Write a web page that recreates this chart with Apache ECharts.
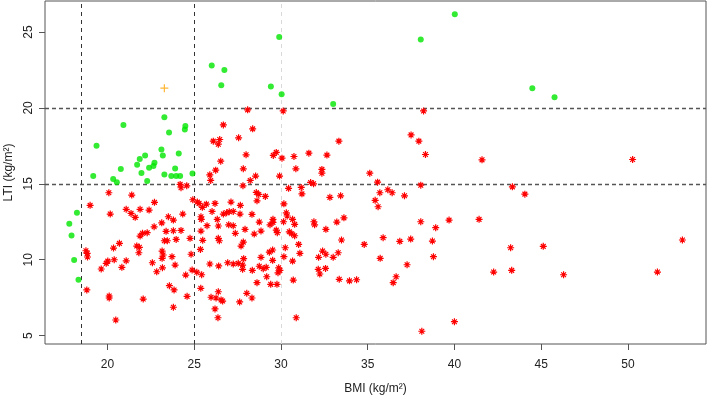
<!DOCTYPE html>
<html>
<head>
<meta charset="utf-8">
<script src="https://cdn.jsdelivr.net/npm/echarts@6/dist/echarts.min.js"></script>
<style>
html,body{margin:0;padding:0;background:#fff;}
#chart{width:709px;height:396px;}
</style>
</head>
<body>
<div id="chart"></div>
<script>
// BMI (x), LTI (y)
const redPoints = [
[28.08,19.87],[30.13,19.8],[26.68,18.88],[28.37,18.62],[27.56,18.03],[33.34,17.81],[26.1,17.81],[26.47,17.92],[26.39,17.61],[27.99,16.91],
[29.73,17.07],[29.56,16.87],[30.06,16.69],[30.75,16.8],[31.61,17.02],[32.65,16.89],[26.53,16.49],[26.24,15.9],[27.83,15.99],[30.86,15.99],
[32.36,15.95],[32.36,15.7],[25.9,15.59],[25.95,15.22],[28.23,15.22],[28.54,15.51],[29.92,15.51],[31.71,15.09],[31.88,15.0],[24.19,14.96],
[24.24,14.74],[24.57,14.87],[27.81,14.87],[30.44,14.7],[31.17,14.76],[28.58,14.43],[28.72,14.3],[31.21,14.34],[20.08,14.41],[21.4,14.26],
[29.1,14.17],[32.82,14.11],[33.44,14.21],[22.71,13.78],[24.92,13.95],
[38.22,19.8],[37.5,18.22],[37.95,17.81],[38.33,16.93],[41.59,16.58],[50.27,16.6],[35.12,15.7],[35.57,15.11],[38.06,14.91],[43.34,14.8],
[35.7,14.41],[36.16,14.61],[36.41,14.41],[37.12,14.21],[44.06,14.32],[35.43,13.91],[35.6,13.49],[38.06,12.5],[39.69,12.61],[41.42,12.66],
[38.92,12.11],[34.8,11.01],[35.89,11.45],[36.85,11.21],[37.48,11.36],[38.73,11.23],[53.14,11.3],[43.24,10.79],[45.12,10.88],[35.72,10.09],
[38.79,10.2],[37.27,9.67],[42.26,9.19],[43.3,9.3],[46.29,9.01],[51.7,9.19],[36.64,8.88],[36.47,8.49],[34.36,8.68],[33.95,8.61],
[40.0,5.92],[38.12,5.29],
[19.0,13.58],[25.18,13.8],[25.28,13.71],[25.7,13.66],[26.2,13.71],[25.47,13.45],[27.12,13.8],[27.66,13.58],[28.62,13.88],[30.17,13.68],
[26.03,13.18],[20.16,13.01],[21.08,13.32],[21.36,13.05],[21.6,12.79],[21.88,13.32],[22.4,13.27],[23.51,12.83],[23.8,12.61],[24.34,13.01],
[25.39,12.83],[25.41,12.66],[26.33,12.66],[26.68,13.01],[26.87,13.09],[27.02,13.16],[27.25,13.18],[27.64,13.01],[28.33,12.99],[30.31,13.09],
[30.36,12.88],[30.67,12.66],[30.15,12.5],[30.79,12.33],[33.63,12.76],[33.22,12.48],[28.75,12.48],[29.37,12.3],[29.54,12.46],[29.54,12.66],
[31.9,12.5],[31.94,12.3],[32.59,12.0],[23.13,12.43],[22.69,12.17],[23.38,11.87],[23.8,11.91],[24.24,11.93],[25.39,11.89],[26.39,12.22],
[26.99,12.3],[27.25,12.24],[27.93,12.0],[27.37,11.74],[28.46,11.69],[28.85,11.89],[29.73,11.95],[29.79,11.78],[30.48,11.84],[30.62,11.71],
[30.79,11.58],[21.88,11.56],[22.02,11.74],[22.29,11.78],[23.96,11.34],[23.28,11.25],[24.76,11.41],[25.49,11.28],[26.39,11.41],[26.45,11.25],
[27.83,11.16],[33.49,11.3],[21.69,10.9],[21.84,10.82],[20.69,11.08],[20.35,10.77],[21.81,10.46],[23.15,10.57],[23.21,10.31],[23.15,10.09],
[23.72,10.2],[24.82,10.36],[25.36,10.68],[27.7,10.9],[30.25,10.79],[31.02,11.01],[31.09,10.42],[32.4,10.57],[32.59,10.36],[33.3,10.46],
[32.17,10.16],[33.01,10.16],[29.33,10.5],[29.52,10.64],[28.85,10.16],[27.85,10.07],[29.52,9.96],[30.67,9.91],[18.76,10.59],[18.83,10.42],
[18.85,10.18],[20.02,9.91],[19.93,9.76],[20.39,10.0],[21.08,9.93],[22.59,9.8],[23.17,9.47],[22.84,9.21],[23.9,9.65],[25.9,9.72],
[26.41,9.59],[26.93,9.8],[27.25,9.72],[27.54,9.76],[27.79,9.65],[27.79,9.37],[28.35,9.3],[28.75,9.57],[28.98,9.41],[29.15,9.5],
[29.18,8.88],[29.87,9.47],[29.94,9.3],[29.83,9.14],[32.15,9.37],[32.24,9.06],[32.57,9.43],[19.64,9.39],[20.83,9.5],[24.51,8.99],
[25.43,9.01],[24.88,9.32],[28.62,8.49],[29.41,8.38],[29.77,8.38],[30.71,8.66],[33.36,8.71],[23.57,8.29],[23.84,8.01],[18.81,8.01],
[25.38,8.12],[26.39,7.89],[28.03,7.79],[28.33,7.48],[25.97,7.53],[26.26,7.48],[26.55,7.35],[26.64,7.28],[27.62,7.22],[20.1,7.61],
[20.1,7.48],[22.06,7.41],[24.59,7.59],[23.8,6.87],[26.2,6.76],[26.37,6.18],[20.48,6.03],[30.88,6.18],
[25.74,12.24],[25.15,9.18],[30.17,10.2],[23.45,11.25]
];
const greenPoints = [
[29.9,24.67],[26.01,22.79],[26.74,22.5],[26.56,21.49],[29.42,21.41],[30.04,20.9],[33.01,20.26],[20.92,18.88],[19.37,17.5],[23.28,19.39],
[23.55,18.38],[24.49,18.8],[24.46,18.58],[23.11,17.26],[23.19,16.87],[24.11,17.0],[22.17,16.87],[21.86,16.64],[21.71,16.25],[22.71,16.38],
[22.65,16.18],[22.4,16.05],[23.9,16.01],[20.77,15.97],[21.96,15.72],[19.18,15.51],[23.28,15.62],[23.68,15.51],[23.96,15.51],[24.19,15.51],
[24.9,15.68],[20.33,15.31],[20.54,15.11],[22.29,15.18],[18.24,13.09],[17.8,12.37],[17.93,11.6],[18.08,9.98],[18.33,8.68],
[40.02,26.16],[38.06,24.5],[44.49,21.3],[45.77,20.7]
];
const orangePoints = [[23.28,21.3]];
const xTicks = [20,25,30,35,40,45,50];
const yTicks = [5,10,15,20,25];
const refDarkX = [18.5,25];
const refLightX = [30];
const refY = [15,20];

const FONT = '"Liberation Sans", Arial, sans-serif';
const chart = echarts.init(document.getElementById('chart'), null, {renderer:'canvas'});

const lines = [];
refDarkX.forEach(v => lines.push({xAxis:v, lineStyle:{color:'#333', width:1, type:[4,4]}}));
refLightX.forEach(v => lines.push({xAxis:v, lineStyle:{color:'#d9d9d9', width:1, type:[4,4]}}));
refY.forEach(v => lines.push({yAxis:v, lineStyle:{color:'#555', width:1.3, type:[4,3]}}));

chart.setOption({
  animation:false,
  backgroundColor:'#fff',
  grid:{left:45, right:3, top:1, bottom:52, show:true, borderColor:'#555', borderWidth:1, backgroundColor:'transparent',
        containLabel:false, outerBoundsMode:'none'},
  xAxis:{
    type:'value', min:16.4, max:54.5,
    name:'BMI (kg/m²)', nameLocation:'middle', nameGap:39,
    nameTextStyle:{fontFamily:FONT, fontSize:12, color:'#222'},
    axisLine:{show:false},
    axisTick:{show:true, customValues:xTicks, length:6, lineStyle:{color:'#555'}},
    axisLabel:{customValues:xTicks, fontFamily:FONT, fontSize:12, color:'#222', margin:15},
    splitLine:{show:false}
  },
  yAxis:{
    type:'value', min:4.45, max:27.04,
    name:'LTI (kg/m²)', nameLocation:'middle', nameGap:27,
    nameTextStyle:{fontFamily:FONT, fontSize:12, color:'#222'},
    axisLine:{show:false},
    axisTick:{show:true, customValues:yTicks, length:6, lineStyle:{color:'#555'}},
    axisLabel:{customValues:yTicks, rotate:90, fontFamily:FONT, fontSize:12, color:'#222', margin:10},
    splitLine:{show:false}
  },
  series:[
    {
      type:'scatter', data:redPoints, symbol:'path://M0,5L10,5M5,0L5,10M1.6,1.6L8.4,8.4M1.6,8.4L8.4,1.6',
      symbolSize:7, itemStyle:{color:'transparent', borderColor:'#ff0000', borderWidth:1.2, opacity:1}, z:3,
      markLine:{silent:true, symbol:'none', label:{show:false}, data:lines, z:1, animation:false}
    },
    {
      type:'scatter', data:greenPoints, symbol:'circle', symbolSize:6,
      itemStyle:{color:'#00e600'}, z:4
    },
    {
      type:'scatter', data:orangePoints, symbol:'path://M0,5L10,5M5,0L5,10',
      symbolSize:8, itemStyle:{color:'transparent', borderColor:'#ffa500', borderWidth:1.2}, z:4
    }
  ]
});
</script>
</body>
</html>
